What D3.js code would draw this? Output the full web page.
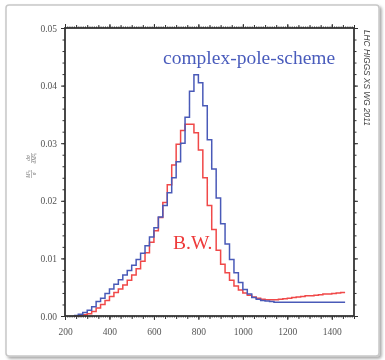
<!DOCTYPE html>
<html><head><meta charset="utf-8">
<script src="https://cdn.jsdelivr.net/npm/d3@7"></script>
<style>body{margin:0;background:#fff;}svg{display:block;}</style>
</head><body>
<svg id="c" width="385" height="360"></svg>
<script>
const binStart = 240, binWidth = 20;
const blueValues = [0.0001,0.0003,0.0006,0.0010,0.0016,0.0025,0.0031,0.0039,0.0047,0.0055,0.0063,0.0071,0.0079,0.0088,0.0098,0.0109,0.0122,0.0137,0.0153,0.0172,0.0192,0.0214,0.0240,0.0268,0.0300,0.0345,0.0390,0.0419,0.0405,0.0365,0.0306,0.0255,0.0205,0.0160,0.0125,0.0098,0.0075,0.0058,0.0046,0.0038,0.0032,0.0029,0.0027,0.0026,0.0025,0.0024,0.0024,0.0024,0.0024,0.0024,0.0024,0.0024,0.0024,0.0024,0.0024,0.0024,0.0024,0.0024,0.0024,0.0024,0.0024];
const redValues = [0.0000,0.0001,0.0002,0.0004,0.0008,0.0014,0.0020,0.0027,0.0034,0.0041,0.0047,0.0054,0.0062,0.0071,0.0082,0.0095,0.0110,0.0128,0.0148,0.0171,0.0197,0.0228,0.0262,0.0298,0.0322,0.0333,0.0333,0.0318,0.0288,0.0240,0.0192,0.0150,0.0114,0.0090,0.0075,0.0062,0.0052,0.0045,0.0040,0.0036,0.0033,0.0031,0.0029,0.0028,0.0028,0.0028,0.0029,0.0030,0.0031,0.0032,0.0033,0.0034,0.0035,0.0035,0.0036,0.0037,0.0038,0.0038,0.0039,0.0040,0.0041];
const xTickLabels = [200,400,600,800,1000,1200,1400];
const yTickLabels = [0.00,0.01,0.02,0.03,0.04,0.05];

const svg = d3.select("#c");
const defs = svg.append("defs");
const f = defs.append("filter").attr("id","sh").attr("x","-5%").attr("y","-5%").attr("width","112%").attr("height","112%");
f.append("feDropShadow").attr("dx",2).attr("dy",2).attr("stdDeviation",1.5).attr("flood-color","#000").attr("flood-opacity",0.35);
const bl = defs.append("filter").attr("id","bl");
bl.append("feGaussianBlur").attr("stdDeviation",0.35);

svg.append("rect").attr("x",6).attr("y",5).attr("width",373).attr("height",351).attr("rx",3)
  .attr("fill","#fff").attr("stroke","#c8c8c8").attr("stroke-width",1.5).attr("filter","url(#sh)");

const L=65,R=354,T=28,B=316;
const x = d3.scaleLinear().domain([200,1500]).range([L,R]);
const y = d3.scaleLinear().domain([0,0.05]).range([B,T]);

const g = svg.append("g").attr("filter","url(#bl)");

function ticks(axisFn, scale, vals, size, tr, labels) {
  const a = axisFn(scale).tickValues(vals).tickSize(size).tickSizeOuter(0);
  if (!labels) a.tickFormat("");
  else a.tickFormat(labels);
  const s = g.append("g").attr("transform",tr).call(a);
  s.select(".domain").remove();
  s.selectAll("line").attr("stroke","#333").attr("stroke-width",1);
  s.selectAll("text").attr("fill","#555").attr("font-family","Liberation Serif, serif").attr("font-size",9.5);
  return s;
}
const xMajor = xTickLabels;
const xMed = d3.range(200,1501,50);
const xMin = d3.range(200,1501,10);
const yMajor = yTickLabels;
const yMed = d3.range(0,0.05001,0.002);

// bottom
ticks(d3.axisBottom,x,xMin,1.5,`translate(0,${B})`);
ticks(d3.axisBottom,x,xMed,3,`translate(0,${B})`);
const xb = ticks(d3.axisBottom,x,xMajor,4,`translate(0,${B})`,d=>d);
xb.selectAll("text").attr("dy","1.25em");
// top
ticks(d3.axisTop,x,xMin,1.5,`translate(0,${T})`);
ticks(d3.axisTop,x,xMed,3,`translate(0,${T})`);
ticks(d3.axisTop,x,xMajor,4,`translate(0,${T})`);
// left
ticks(d3.axisLeft,y,yMed,2.5,`translate(${L},0)`);
const yl = ticks(d3.axisLeft,y,yMajor,4,`translate(${L},0)`,d=>d.toFixed(2));
yl.selectAll("text").attr("dx","-0.1em");
// right
ticks(d3.axisRight,y,yMed,2.5,`translate(${R},0)`);
ticks(d3.axisRight,y,yMajor,4,`translate(${R},0)`);

function pts(vals){
  const p = vals.map((v,i)=>[binStart+i*binWidth, v]);
  p.push([binStart+vals.length*binWidth, vals[vals.length-1]]);
  return p;
}
const line = d3.line().x(d=>x(d[0])).y(d=>y(d[1])).curve(d3.curveStepAfter);
g.append("path").attr("d",line(pts(redValues))).attr("fill","none").attr("stroke","#f04848").attr("stroke-width",1.5);
g.append("path").attr("d",line(pts(blueValues))).attr("fill","none").attr("stroke","#4a5ab8").attr("stroke-width",1.5);

g.append("rect").attr("x",L).attr("y",T).attr("width",R-L).attr("height",B-T)
  .attr("fill","none").attr("stroke","#333").attr("stroke-width",1.8);

g.append("text").attr("x",163).attr("y",64).attr("fill","#4a5cbc")
  .attr("font-family","Liberation Serif, serif").attr("font-size",19.5).text("complex-pole-scheme");
g.append("text").attr("x",173).attr("y",249).attr("fill","#ee3a3a")
  .attr("font-family","Liberation Serif, serif").attr("font-size",19.5).text("B.W.");

g.append("text").attr("transform","translate(364,30) rotate(90)").attr("fill","#444")
  .attr("font-family","Liberation Sans, sans-serif").attr("font-style","italic").attr("font-size",8.3)
  .text("LHC HIGGS XS WG 2011");

// y-axis title (fractions), rotated
const yt = g.append("g").attr("transform","translate(31,162) rotate(-90)").attr("fill","#777")
  .attr("font-family","Liberation Serif, serif").attr("font-size",5.5).attr("font-style","italic");
yt.append("text").attr("x",-12).attr("y",-1).attr("text-anchor","middle").text("M²ₕ");
yt.append("line").attr("x1",-16).attr("x2",-8).attr("y1",0.5).attr("y2",0.5).attr("stroke","#777").attr("stroke-width",0.5);
yt.append("text").attr("x",-12).attr("y",5).attr("text-anchor","middle").text("σ");
yt.append("text").attr("x",4).attr("y",-1).attr("text-anchor","middle").text("dσ");
yt.append("line").attr("x1",-1).attr("x2",9).attr("y1",0.5).attr("y2",0.5).attr("stroke","#777").attr("stroke-width",0.5);
yt.append("text").attr("x",4).attr("y",5).attr("text-anchor","middle").text("dM²ₕ");
</script>
</body></html>
